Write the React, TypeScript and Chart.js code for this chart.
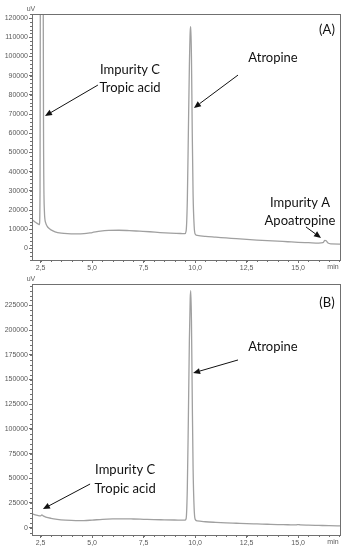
import { useEffect, useRef } from "react";
import { Chart, registerables } from "chart.js";

Chart.register(...registerables);

// ---- Data (retention time in min, signal in uV) ----
const timeA = [2.08, 2.2, 2.3, 2.4, 2.44, 2.47, 2.5, 2.53, 2.56, 2.6, 2.64, 2.68, 2.74, 2.82, 2.9, 3.0, 3.2, 3.5, 3.8, 4.2, 4.6, 5.0, 5.4, 5.8, 6.3, 6.8, 7.3, 7.8, 8.3, 8.8, 9.3, 9.5, 9.56, 9.62, 9.67, 9.72, 9.76, 9.79, 9.82, 9.86, 9.9, 9.95, 10.0, 10.1, 10.5, 11.0, 11.5, 12.0, 12.5, 13.0, 13.5, 14.0, 14.5, 15.0, 15.5, 16.0, 16.2, 16.3, 16.36, 16.45, 16.6, 17.08];
const signalA = [15000, 14000, 13300, 12600, 12400, 30000, 250000, 600000, 600000, 250000, 60000, 20000, 13500, 11500, 10500, 9700, 8700, 8000, 7700, 7600, 7700, 8300, 9000, 9400, 9500, 9300, 9000, 8700, 8300, 8000, 7800, 7700, 9000, 25000, 60000, 95000, 113000, 115500, 100000, 60000, 28000, 12000, 7500, 6800, 6300, 5900, 5500, 5100, 4700, 4400, 4100, 3800, 3500, 3200, 3000, 2800, 3000, 4200, 4000, 2800, 2400, 2300];

const timeB = [2.08, 2.2, 2.35, 2.5, 2.56, 2.62, 2.75, 3.0, 3.3, 3.7, 4.2, 4.6, 5.0, 5.5, 6.0, 6.5, 7.0, 7.5, 8.0, 8.5, 9.0, 9.5, 9.56, 9.62, 9.67, 9.72, 9.76, 9.79, 9.82, 9.86, 9.9, 9.95, 10.0, 10.1, 10.5, 11.0, 11.5, 12.0, 12.5, 13.0, 13.5, 14.0, 14.5, 14.9, 15.0, 15.1, 15.5, 16.0, 16.5, 17.08];
const signalB = [14000, 13200, 12400, 11900, 13000, 12000, 10800, 9500, 8500, 7700, 7200, 7200, 7700, 8500, 8900, 9000, 8800, 8500, 8200, 8000, 7800, 7600, 9000, 40000, 110000, 190000, 232000, 240000, 210000, 130000, 60000, 20000, 8500, 6800, 6000, 5400, 4900, 4500, 4100, 3800, 3500, 3200, 3000, 2800, 3200, 2800, 2600, 2300, 2000, 1800];

const xTicks = [2.5, 5, 7.5, 10, 12.5, 15];
const yTicksA = [0, 10000, 20000, 30000, 40000, 50000, 60000, 70000, 80000, 90000, 100000, 110000, 120000];
const yTicksB = [0, 25000, 50000, 75000, 100000, 125000, 150000, 175000, 200000, 225000];

// annotations (data coordinates)
const textsA = [
  { text: "Impurity C", x: 6.84, y: 92900 },
  { text: "Tropic acid", x: 6.84, y: 83500 },
  { text: "Atropine", x: 13.78, y: 99200 },
  { text: "Impurity A", x: 15.09, y: 23700 },
  { text: "Apoatropine", x: 15.09, y: 14300 },
  { text: "(A)", x: 16.4, y: 113800 },
];
const arrowsA = [
  { x1: 5.28, y1: 85100, x2: 2.71, y2: 69000 },
  { x1: 12.08, y1: 90300, x2: 9.94, y2: 73200 },
  { x1: 15.38, y1: 11200, x2: 16.11, y2: 5500 },
];
const textsB = [
  { text: "(B)", x: 16.4, y: 227500 },
  { text: "Atropine", x: 13.78, y: 182800 },
  { text: "Impurity C", x: 6.6, y: 58500 },
  { text: "Tropic acid", x: 6.6, y: 39200 },
];
const arrowsB = [
  { x1: 12.08, y1: 169800, x2: 9.9, y2: 156600 },
  { x1: 4.9, y1: 44200, x2: 2.61, y2: 18900 },
];

const AXIS = "#707070";
const TICKTXT = "#5a5a5a";
const LINE = "#a0a0a0";

const decoPlugin = {
  id: "deco",
  afterDraw(chart: any, _args: any, opts: any) {
    const { ctx, chartArea: a, scales } = chart;
    const x = scales.x;
    const y = scales.y;
    ctx.save();
    // frame
    ctx.strokeStyle = AXIS;
    ctx.lineWidth = 1;
    ctx.strokeRect(a.left + 0.5, a.top + 0.5, a.right - a.left - 1, a.bottom - a.top);
    // minor x ticks
    ctx.beginPath();
    for (let v = Math.ceil(x.min * 2) / 2; v <= x.max + 1e-9; v += 0.5) {
      const px = Math.round(x.getPixelForValue(v)) + 0.5;
      ctx.moveTo(px, a.bottom);
      ctx.lineTo(px, a.bottom + 2);
    }
    // minor y ticks
    const step = opts.yMinor;
    for (let v = Math.ceil(y.min / step) * step; v <= y.max + 1e-9; v += step) {
      const py = Math.round(y.getPixelForValue(v)) + 0.5;
      ctx.moveTo(a.left - 2, py);
      ctx.lineTo(a.left, py);
    }
    ctx.stroke();
    // unit labels
    ctx.fillStyle = TICKTXT;
    ctx.font = "7px 'Liberation Sans', Arial, sans-serif";
    ctx.textAlign = "center";
    ctx.textBaseline = "middle";
    ctx.fillText("uV", a.left - 1, a.top - 5);
    ctx.fillText("min", a.right - 8, a.bottom + 7);
    // annotation texts
    ctx.fillStyle = "#111";
    ctx.font = "13px Lato, 'Open Sans', sans-serif";
    for (const t of opts.texts) {
      ctx.fillText(t.text, x.getPixelForValue(t.x), y.getPixelForValue(t.y));
    }
    // arrows
    ctx.strokeStyle = "#111";
    ctx.fillStyle = "#111";
    ctx.lineWidth = 1;
    for (const ar of opts.arrows) {
      const sx = x.getPixelForValue(ar.x1);
      const sy = y.getPixelForValue(ar.y1);
      const ex = x.getPixelForValue(ar.x2);
      const ey = y.getPixelForValue(ar.y2);
      const ang = Math.atan2(ey - sy, ex - sx);
      const hl = 7;
      const hw = 3;
      const bx = ex - hl * Math.cos(ang);
      const by = ey - hl * Math.sin(ang);
      ctx.beginPath();
      ctx.moveTo(sx, sy);
      ctx.lineTo(bx, by);
      ctx.stroke();
      ctx.beginPath();
      ctx.moveTo(ex, ey);
      ctx.lineTo(bx + hw * Math.sin(ang), by - hw * Math.cos(ang));
      ctx.lineTo(bx - hw * Math.sin(ang), by + hw * Math.cos(ang));
      ctx.closePath();
      ctx.fill();
    }
    ctx.restore();
  },
};

function makeConfig(times: number[], values: number[], yMin: number, yMax: number, yTicks: number[], yMinor: number, texts: any[], arrows: any[]): any {
  return {
    type: "line",
    data: {
      datasets: [
        {
          data: times.map((t, i) => ({ x: t, y: values[i] })),
          borderColor: LINE,
          borderWidth: 1.3,
          pointRadius: 0,
          cubicInterpolationMode: "monotone",
          fill: false,
        },
      ],
    },
    options: {
      animation: false,
      responsive: false,
      devicePixelRatio: 1,
      layout: { padding: { top: 14, right: 15, left: 0, bottom: 0 } },
      plugins: {
        legend: { display: false },
        tooltip: { enabled: false },
        deco: { texts, arrows, yMinor },
      },
      scales: {
        x: {
          type: "linear",
          min: 2.08,
          max: 17.08,
          afterBuildTicks: (s: any) => {
            s.ticks = xTicks.map((v) => ({ value: v }));
          },
          afterFit: (s: any) => {
            s.height = 15;
          },
          border: { display: false },
          grid: { drawOnChartArea: false, tickLength: 3, color: AXIS },
          ticks: {
            autoSkip: false,
            maxRotation: 0,
            padding: 1,
            color: TICKTXT,
            font: { size: 7, family: "'Liberation Sans', Arial, sans-serif" },
            callback: (v: any) => Number(v).toFixed(1).replace(".", ","),
          },
        },
        y: {
          type: "linear",
          min: yMin,
          max: yMax,
          afterBuildTicks: (s: any) => {
            s.ticks = yTicks.map((v) => ({ value: v }));
          },
          afterFit: (s: any) => {
            s.width = 32;
          },
          border: { display: false },
          grid: { drawOnChartArea: false, tickLength: 3, color: AXIS },
          ticks: {
            autoSkip: false,
            padding: 1,
            color: TICKTXT,
            font: { size: 7, family: "'Liberation Sans', Arial, sans-serif" },
            callback: (v: any) => String(v),
          },
        },
      },
    },
    plugins: [decoPlugin],
  };
}

function Panel(props: { top: number; height: number; config: any }) {
  const ref = useRef<HTMLCanvasElement>(null);
  useEffect(() => {
    const chart = new Chart(ref.current as HTMLCanvasElement, props.config);
    return () => chart.destroy();
  }, []);
  return (
    <canvas
      ref={ref}
      width={356}
      height={props.height}
      style={{ position: "absolute", left: 0, top: props.top, width: 356, height: props.height, display: "block" }}
    />
  );
}

export default function App() {
  const cfgA = makeConfig(timeA, signalA, -6000, 122100, yTicksA, 2000, textsA, arrowsA);
  const cfgB = makeConfig(timeB, signalB, -7400, 246700, yTicksB, 5000, textsB, arrowsB);
  return (
    <div style={{ position: "absolute", left: 0, top: 0, width: 356, height: 550, background: "#fff", overflow: "hidden" }}>
      <Panel top={0} height={275} config={cfgA} />
      <Panel top={270} height={280} config={cfgB} />
    </div>
  );
}
